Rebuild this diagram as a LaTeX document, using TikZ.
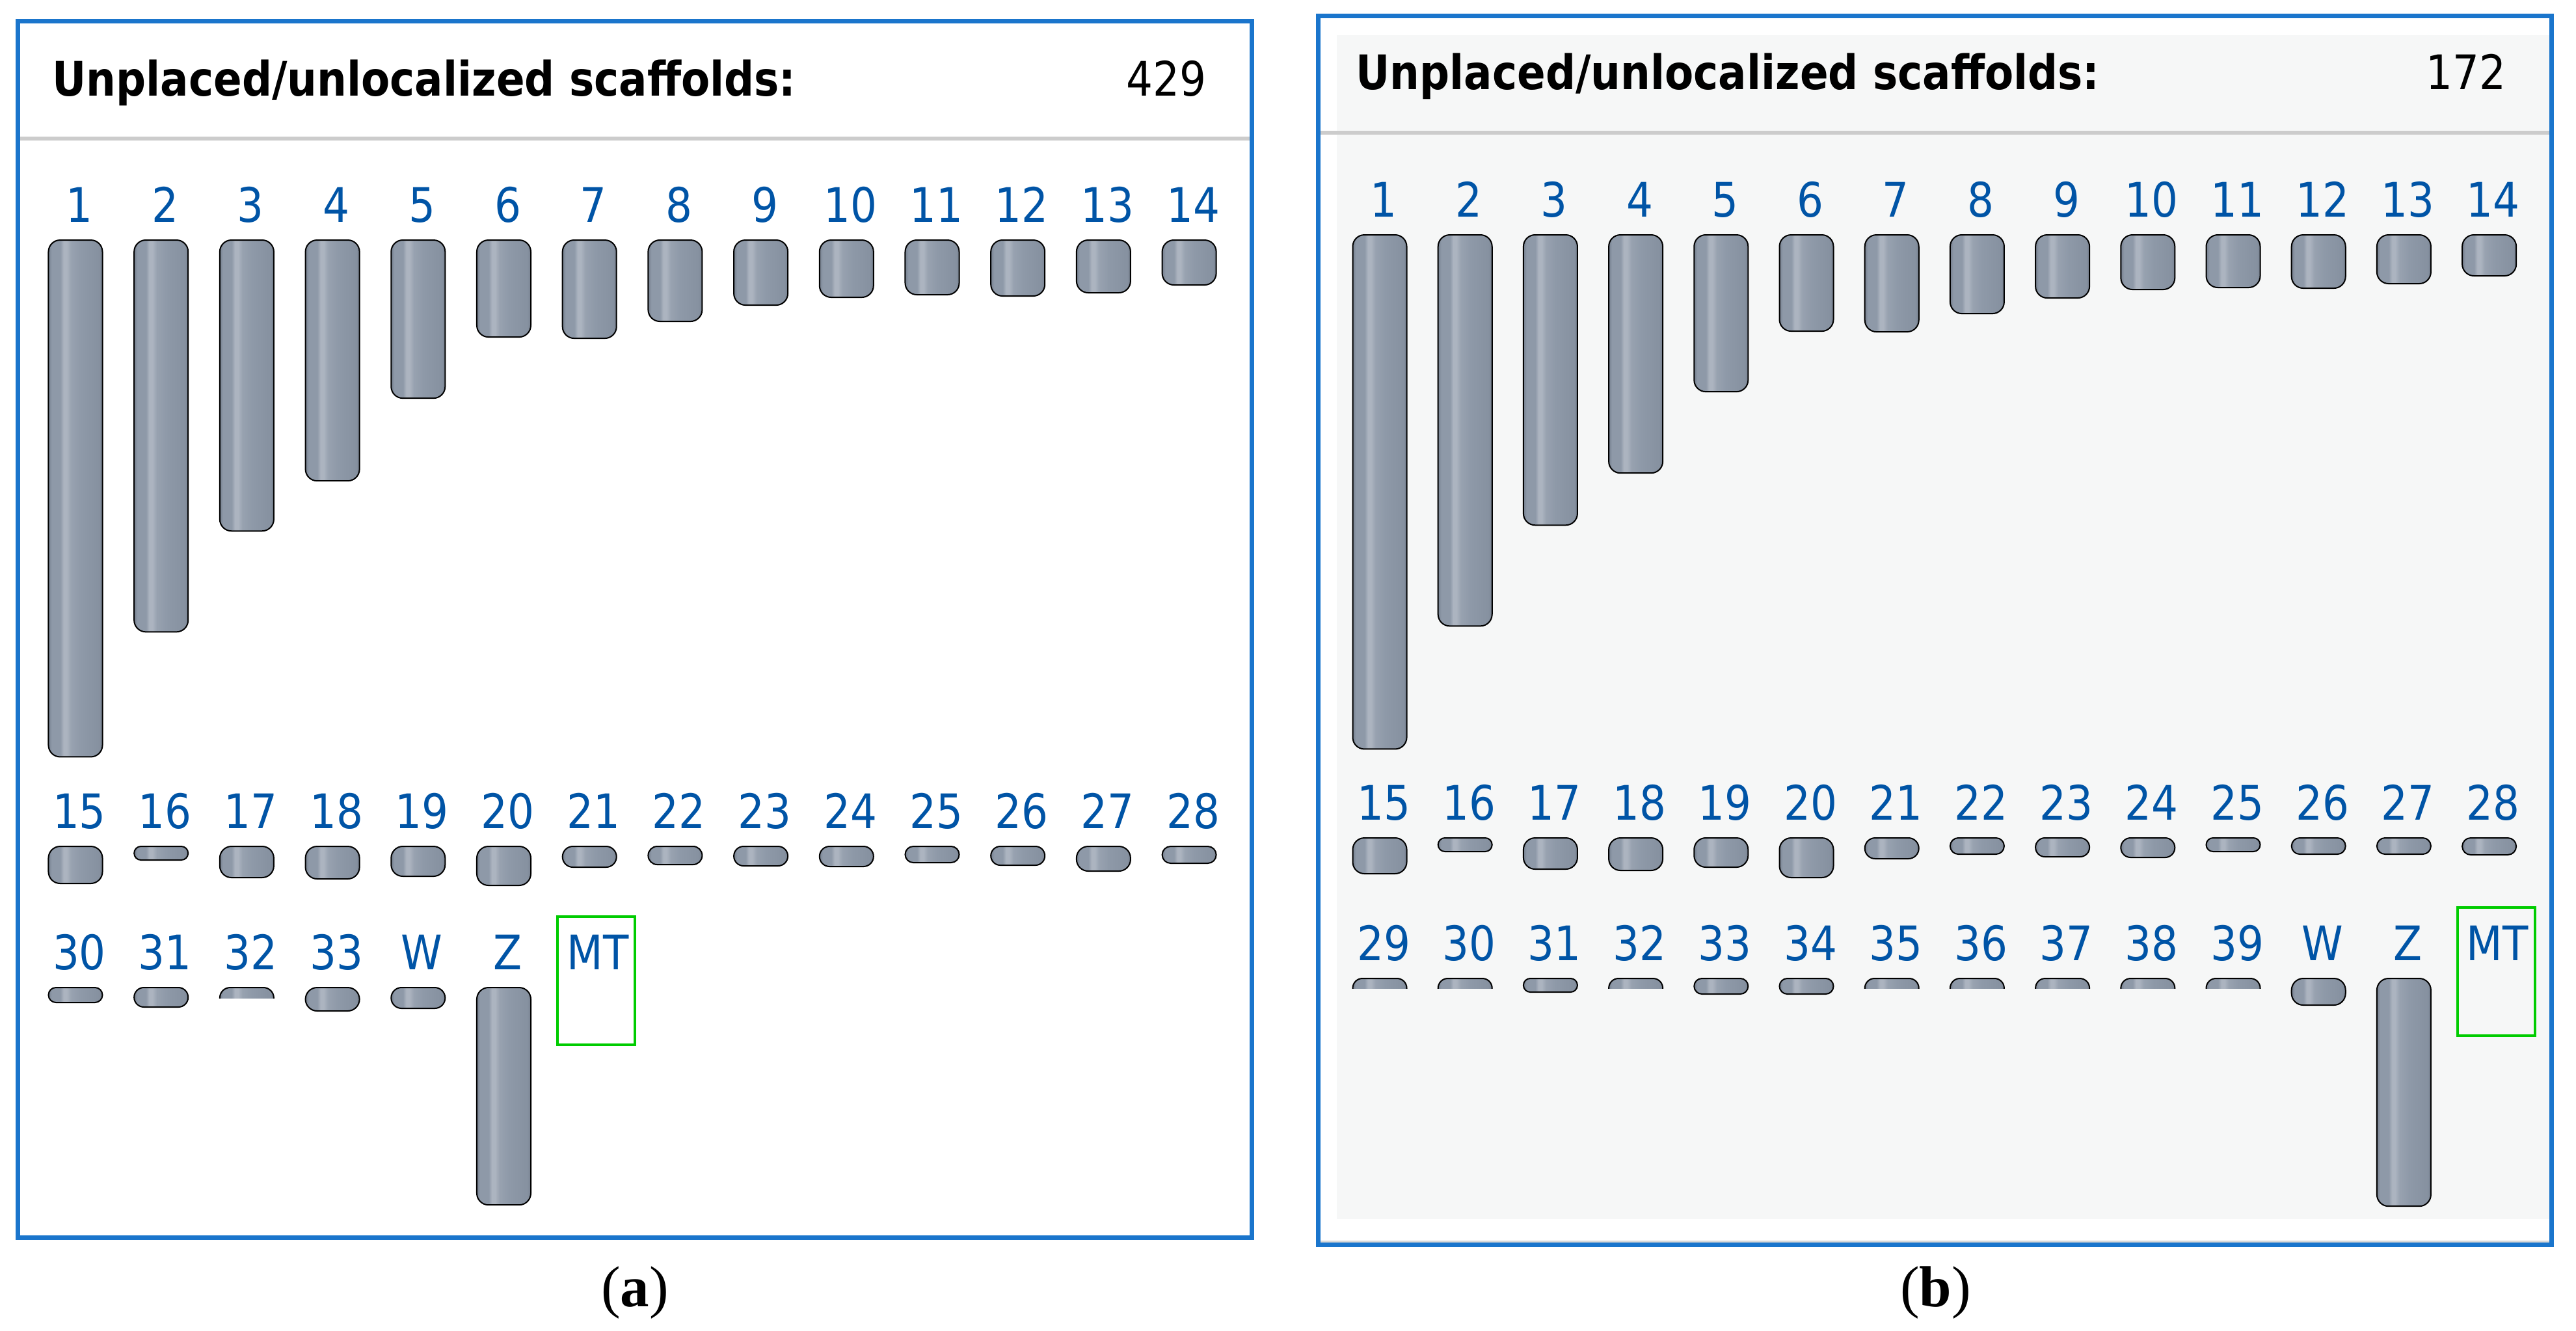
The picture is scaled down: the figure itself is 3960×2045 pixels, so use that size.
\documentclass[tikz,border=0pt]{standalone}
\usepackage{fontspec}
\usepackage{tikz}
\usetikzlibrary{positioning}
\newfontfamily\chrfont[FakeStretch=0.88]{DejaVu Sans}
\newfontfamily\capfont{Liberation Serif}

\definecolor{frameblue}{RGB}{26,117,204}
\definecolor{labelblue}{RGB}{0,84,166}
\definecolor{rulegray}{RGB}{204,204,204}
\definecolor{panelgray}{RGB}{246,247,247}
\definecolor{edgegray}{RGB}{216,216,216}
\definecolor{mtgreen}{RGB}{0,204,0}
\definecolor{chrEdge}{RGB}{118,128,143}
\definecolor{chrMain}{RGB}{142,153,168}
\definecolor{chrHigh}{RGB}{172,180,192}
\definecolor{chrSoft}{RGB}{152,162,176}
\definecolor{chrDark}{RGB}{134,145,160}

\pgfdeclarehorizontalshading{chromshade}{100bp}{%
  color(0bp)=(chrEdge); color(25bp)=(chrEdge); color(28bp)=(chrMain);
  color(36bp)=(chrMain); color(39bp)=(chrHigh); color(42bp)=(chrHigh);
  color(46bp)=(chrSoft); color(55bp)=(chrMain); color(72bp)=(chrDark);
  color(75bp)=(chrEdge); color(100bp)=(chrEdge)}

\tikzset{
  panel/.style={draw=frameblue, line width=0.07cm},
  headrule/.style={draw=rulegray, line width=0.055cm},
  chrom/.style={draw=black, line width=0.02cm, shade, shading=chromshade,
    anchor=north, minimum width=0.83cm, inner sep=0pt, outer sep=0pt},
  chrlabel/.style={font=\chrfont\fontsize{20.8}{25}\selectfont, text=labelblue,
    anchor=base, inner sep=0pt},
  headtext/.style={font=\chrfont\bfseries\fontsize{20.8}{25}\selectfont,
    anchor=base west, inner sep=0pt},
  headcount/.style={font=\chrfont\fontsize{20.8}{25}\selectfont,
    anchor=base east, inner sep=0pt},
  mtbox/.style={draw=mtgreen, line width=0.04cm, minimum width=1.19cm,
    minimum height=1.97cm, inner sep=0pt},
  sublabel/.style={font=\capfont\fontsize{25.3}{30}\selectfont, anchor=base,
    inner sep=0pt}
}

% #1 panel, #2 name, #3 x, #4 top, #5 bottom
\newcommand{\chromosome}[5]{%
  \pgfmathsetmacro{\chrh}{(#5-#4)/100}%
  \pgfmathsetmacro{\chrr}{min(0.18,\chrh/2)}%
  \node[chrom, minimum height=\chrh cm, rounded corners=\chrr cm] (#1#2) at (#3,#4) {};
  \node[chrlabel] (l#1#2) at (#3+6,#4-28) {#2};
}
% cut off at the bottom
\newcommand{\halfchromosome}[5]{%
  \pgfmathsetmacro{\chrh}{(#5-#4)/50}%
  \pgfmathsetmacro{\chrr}{min(0.18,\chrh/2)}%
  \begin{scope}
    \clip (#3-48,#4-5) rectangle (#3+48,#5);
    \node[chrom, minimum height=\chrh cm, rounded corners=\chrr cm] (#1#2) at (#3,#4) {};
  \end{scope}
  \node[chrlabel] (l#1#2) at (#3+6,#4-28) {#2};
}

\begin{document}
\begin{tikzpicture}[x=0.01cm,y=-0.01cm]
    \useasboundingbox (0,0) rectangle (3960,2045);

    % panel (a)
    \draw[panel] (27.5,32.5) rectangle (1924,1902);
    \draw[headrule] (31,213) -- (1920.5,213);
    \node[headtext] (titleA) at (80,147) {Unplaced/unlocalized scaffolds:};
    \node[headcount] (countA) at (1855,147) {429};

    \foreach \n/\bot [count=\k from 0] in {1/1163, 2/971, 3/816, 4/739, 5/612, 6/518,
        7/520, 8/494, 9/469, 10/457, 11/453, 12/455, 13/450, 14/438} {
        \pgfmathsetmacro{\cx}{116+\k*131.7}
        \chromosome{a}{\n}{\cx}{369}{\bot}
    }
    \foreach \n/\bot [count=\k from 0] in {15/1358, 16/1322, 17/1349, 18/1351, 19/1347,
        20/1361, 21/1333, 22/1329, 23/1331, 24/1332, 25/1326, 26/1330, 27/1339, 28/1327} {
        \pgfmathsetmacro{\cx}{116+\k*131.7}
        \chromosome{a}{\n}{\cx}{1301}{\bot}
    }
    \foreach \n/\k/\bot in {30/0/1541, 31/1/1548, 33/3/1554, W/4/1550, Z/5/1852} {
        \pgfmathsetmacro{\cx}{116+\k*131.7}
        \chromosome{a}{\n}{\cx}{1518}{\bot}
    }
    \halfchromosome{a}{32}{379.4}{1518}{1534}
    \node[mtbox] (aMT) at (916.5,1507.5) {};
    \node[chrlabel, anchor=base west] (laMT) at (871,1490) {MT};

    \node[sublabel] (capA) at (976,2008) {(\textbf{a})};

    % panel (b)
    \fill[panelgray] (2055,54) rectangle (3919,1874);
    \draw[edgegray, line width=0.03cm] (2029.5,1908.5) -- (3918.5,1908.5);
    \draw[panel] (2026,24) rectangle (3922,1913.5);
    \draw[headrule] (2029.5,204) -- (3918.5,204);
    \node[headtext] (titleB) at (2084,137) {Unplaced/unlocalized scaffolds:};
    \node[headcount] (countB) at (3853,137) {172};

    \foreach \n/\bot [count=\k from 0] in {1/1151, 2/962, 3/807, 4/727, 5/602, 6/509,
        7/510, 8/482, 9/458, 10/445, 11/442, 12/443, 13/436, 14/424} {
        \pgfmathsetmacro{\cx}{2121+\k*131.2}
        \chromosome{b}{\n}{\cx}{361}{\bot}
    }
    \foreach \n/\bot [count=\k from 0] in {15/1343, 16/1309, 17/1336, 18/1338, 19/1333,
        20/1349, 21/1320, 22/1313, 23/1317, 24/1318, 25/1309, 26/1313, 27/1313, 28/1314} {
        \pgfmathsetmacro{\cx}{2121+\k*131.2}
        \chromosome{b}{\n}{\cx}{1288}{\bot}
    }
    \foreach \n/\k/\bot in {31/2/1525, 33/4/1528, 34/5/1528, W/11/1545, Z/12/1854} {
        \pgfmathsetmacro{\cx}{2121+\k*131.2}
        \chromosome{b}{\n}{\cx}{1504}{\bot}
    }
    \foreach \n/\k in {29/0, 30/1, 32/3, 35/6, 36/7, 37/8, 38/9, 39/10} {
        \pgfmathsetmacro{\cx}{2121+\k*131.2}
        \halfchromosome{b}{\n}{\cx}{1504}{1519}
    }
    \node[mtbox] (bMT) at (3837,1493.5) {};
    \node[chrlabel, anchor=base west] (lbMT) at (3791,1476) {MT};

    \node[sublabel] (capB) at (2975.5,2008) {(\textbf{b})};
\end{tikzpicture}
\end{document}
